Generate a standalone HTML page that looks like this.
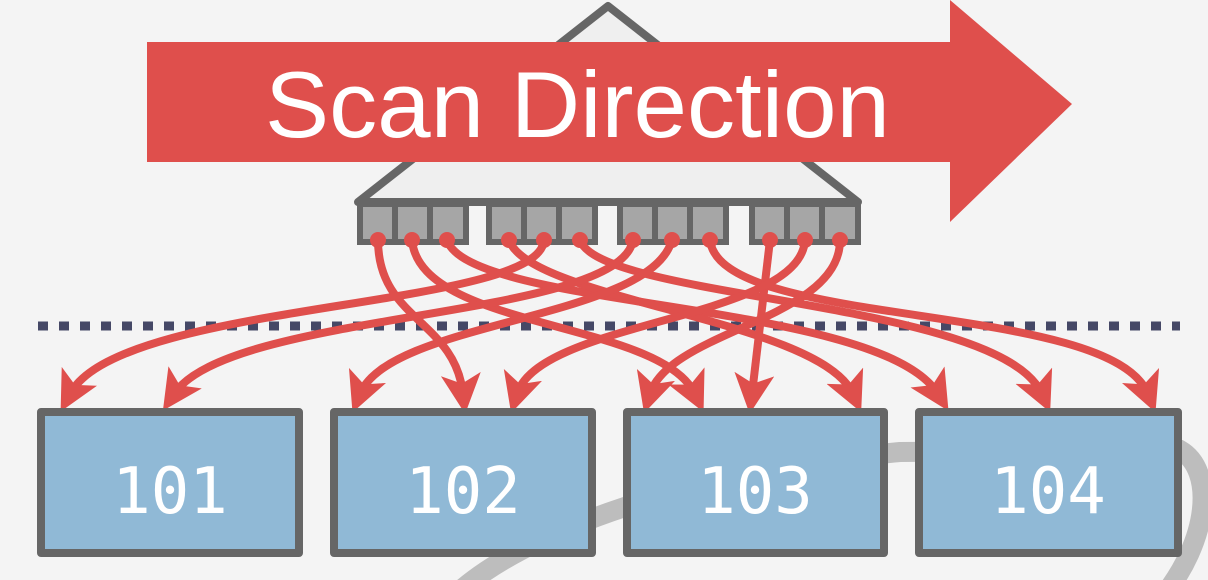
<!DOCTYPE html>
<html><head><meta charset="utf-8"><style>
html,body{margin:0;padding:0;background:#f4f4f4;}
svg{display:block;}
</style></head><body>
<svg width="1208" height="580" viewBox="0 0 1208 580" xmlns="http://www.w3.org/2000/svg">
<rect width="1208" height="580" fill="#f4f4f4"/>
<!-- gray swoosh -->
<path d="M450 600 C520 530, 700 470, 900 452 L1180 450 C1215 470, 1210 540, 1160 600" fill="none" stroke="#bdbdbd" stroke-width="20"/>
<!-- triangle -->
<polygon points="608,6 358,202 858,202" fill="#efefef" stroke="#666" stroke-width="8" stroke-linejoin="round"/>
<!-- leaf groups -->
<g fill="#a6a6a6" stroke="#666" stroke-width="6">
<rect x="360" y="204" width="106" height="38"/>
<rect x="489" y="204" width="106" height="38"/>
<rect x="620" y="204" width="106" height="38"/>
<rect x="752" y="204" width="106" height="38"/>
</g>
<g stroke="#666" stroke-width="6">
<line x1="395" y1="204" x2="395" y2="242"/><line x1="430" y1="204" x2="430" y2="242"/>
<line x1="524" y1="204" x2="524" y2="242"/><line x1="559" y1="204" x2="559" y2="242"/>
<line x1="655" y1="204" x2="655" y2="242"/><line x1="690" y1="204" x2="690" y2="242"/>
<line x1="787" y1="204" x2="787" y2="242"/><line x1="822" y1="204" x2="822" y2="242"/>
</g>
<!-- dashed line -->
<line x1="38" y1="326" x2="1180" y2="326" stroke="#454866" stroke-width="9" stroke-dasharray="10 11"/>
<!-- scan arrow -->
<polygon points="147,42 950,42 950,0 1072,104 950,222 950,162 147,162" fill="#df4f4c"/>
<text x="265" y="137" font-family="Liberation Sans, sans-serif" font-size="94" fill="#fff" textLength="625" lengthAdjust="spacingAndGlyphs">Scan Direction</text>
<!-- curves -->
<defs><marker id="ah" markerWidth="5" markerHeight="5" refX="2.5" refY="2.5" orient="auto" markerUnits="strokeWidth"><path d="M0,0 L5,2.5 L0,5 L1.2,2.5 z" fill="#df4f4c"/></marker></defs>
<g fill="none" stroke="#df4f4c" stroke-width="8" marker-end="url(#ah)">
<path d="M378 240 C378 320, 455 320, 463 394"/>
<path d="M412 240 C420 330, 660 320, 695 394"/>
<path d="M447 240 C470 310, 880 300, 938 394"/>
<path d="M509 240 C530 300, 820 320, 853 394"/>
<path d="M544 240 C540 310, 120 300, 70 394"/>
<path d="M580 240 C600 300, 1000 300, 1042 394"/>
<path d="M633 240 C620 320, 230 310, 174 394"/>
<path d="M672 240 C650 320, 390 320, 360 394"/>
<path d="M710 240 C720 330, 1110 300, 1148 394"/>
<path d="M770 240 L752 394"/>
<path d="M805 240 C800 320, 540 320, 517 394"/>
<path d="M840 240 C840 320, 670 330, 650 394"/>
</g>
<g fill="#df4f4c">
<circle cx="378" cy="240" r="8"/><circle cx="412" cy="240" r="8"/><circle cx="447" cy="240" r="8"/>
<circle cx="509" cy="240" r="8"/><circle cx="544" cy="240" r="8"/><circle cx="580" cy="240" r="8"/>
<circle cx="633" cy="240" r="8"/><circle cx="672" cy="240" r="8"/><circle cx="710" cy="240" r="8"/>
<circle cx="770" cy="240" r="8"/><circle cx="805" cy="240" r="8"/><circle cx="840" cy="240" r="8"/>
</g>
<!-- boxes -->
<g fill="#90b9d6" stroke="#666" stroke-width="8" stroke-linejoin="round">
<rect x="41" y="412" width="258" height="141"/>
<rect x="334" y="412" width="258" height="141"/>
<rect x="627" y="412" width="257" height="141"/>
<rect x="919" y="412" width="259" height="141"/>
</g>
<g font-family="DejaVu Sans Mono, Liberation Mono, monospace" font-size="64" fill="#fff" text-anchor="middle">
<text x="170" y="513">101</text>
<text x="463" y="513">102</text>
<text x="755" y="513">103</text>
<text x="1048" y="513">104</text>
</g>
</svg>
</body></html>
